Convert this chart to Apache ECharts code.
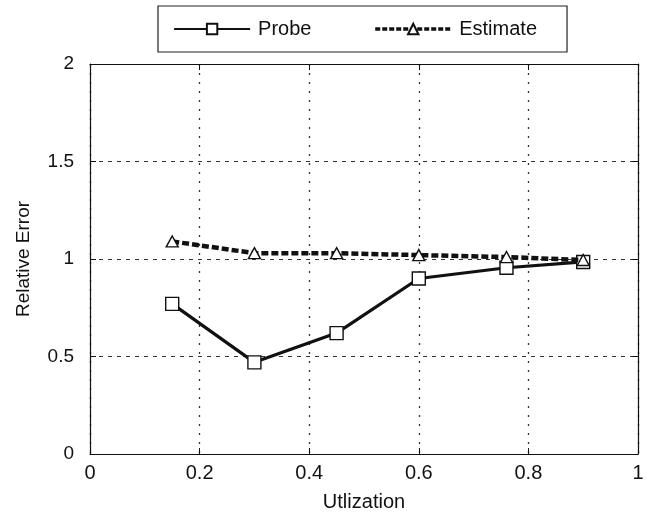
<!DOCTYPE html>
<html>
<head>
<meta charset="utf-8">
<script src="https://cdn.jsdelivr.net/npm/echarts@6/dist/echarts.min.js"></script>
<style>
  html, body { margin: 0; padding: 0; background: #fff; }
  #chart { width: 647px; height: 518px; }
</style>
</head>
<body>
<div id="chart"></div>
<script>
// Utilization levels and relative error for the two methods
const utilization = [0.15, 0.30, 0.45, 0.60, 0.76, 0.90];
const probeError = [0.77, 0.47, 0.62, 0.90, 0.955, 0.985];
const estimateError = [1.09, 1.03, 1.03, 1.02, 1.01, 0.995];
const xTicks = [0, 0.2, 0.4, 0.6, 0.8, 1];
const yTicks = [0, 0.5, 1, 1.5, 2];

const FONT = 'Liberation Sans, Arial, sans-serif';
const pair = (xs, ys) => xs.map((x, i) => [x, ys[i]]);

const axisCommon = {
  axisLine: { show: true, onZero: false, lineStyle: { color: '#111', width: 1.2 } },
  axisTick: { show: true, inside: true, length: 6, lineStyle: { color: '#111', width: 1 } },
  splitLine: { show: false }
};

const probeLine = { color: '#111', width: 3.2, type: 'solid' };
const estimateLine = { color: '#111', width: 4.5, type: [7, 3] };
const markerStyle = { color: '#fff', borderColor: '#111', borderWidth: 1.4 };

const chart = echarts.init(document.getElementById('chart'), null, { renderer: 'canvas' });
chart.setOption({
  backgroundColor: '#fff',
  animation: false,
  grid: {
    left: 90, right: 9, top: 64, bottom: 64,
    containLabel: false, outerBoundsMode: 'none'
  },
  legend: {
    top: 6, left: 158,
    padding: [13, 30, 13, 15],
    itemGap: 62,
    itemWidth: 76,
    itemHeight: 13,
    borderColor: '#222', borderWidth: 1.2,
    textStyle: { fontFamily: FONT, fontSize: 20, color: '#111', padding: [0, 0, 0, 3] },
    data: [
      { name: 'Probe', lineStyle: { width: 2.2, type: 'solid' } },
      { name: 'Estimate', lineStyle: { width: 3.5, type: [5, 2] } }
    ]
  },
  xAxis: [
    Object.assign({}, axisCommon, {
      type: 'value', min: 0, max: 1, interval: 0.2, position: 'bottom',
      name: 'Utlization', nameLocation: 'middle', nameGap: 38,
      nameTextStyle: { fontFamily: FONT, fontSize: 20, color: '#111' },
      axisLabel: {
        fontFamily: FONT, fontSize: 20, color: '#111', margin: 9,
        formatter: v => xTicks.includes(+v.toFixed(1)) ? String(+v.toFixed(1)) : ''
      },
      splitLine: { show: true, lineStyle: { color: '#333', type: [2, 7], width: 1.3 } }
    }),
    Object.assign({}, axisCommon, {
      type: 'value', min: 0, max: 1, interval: 0.2, position: 'top',
      axisLabel: { show: false }
    })
  ],
  yAxis: [
    Object.assign({}, axisCommon, {
      type: 'value', min: 0, max: 2, interval: 0.5, position: 'left',
      name: 'Relative Error', nameLocation: 'middle', nameGap: 57,
      nameTextStyle: { fontFamily: FONT, fontSize: 19, color: '#111' },
      axisLabel: {
        fontFamily: FONT, fontSize: 19, color: '#111', margin: 16,
        formatter: v => yTicks.includes(v) ? String(v) : ''
      },
      splitLine: { show: true, lineStyle: { color: '#333', type: [4, 5], width: 1.2 } }
    }),
    Object.assign({}, axisCommon, {
      type: 'value', min: 0, max: 2, interval: 0.5, position: 'right',
      axisLabel: { show: false }
    })
  ],
  series: [
    {
      name: 'Probe', type: 'line',
      data: pair(utilization, probeError),
      symbol: 'rect', symbolSize: 13,
      itemStyle: markerStyle,
      lineStyle: probeLine,
      z: 3
    },
    {
      name: 'Estimate', type: 'line',
      data: pair(utilization, estimateError),
      symbol: 'triangle', symbolSize: [12, 11],
      itemStyle: markerStyle,
      lineStyle: estimateLine,
      z: 4
    }
  ]
});
</script>
</body>
</html>
